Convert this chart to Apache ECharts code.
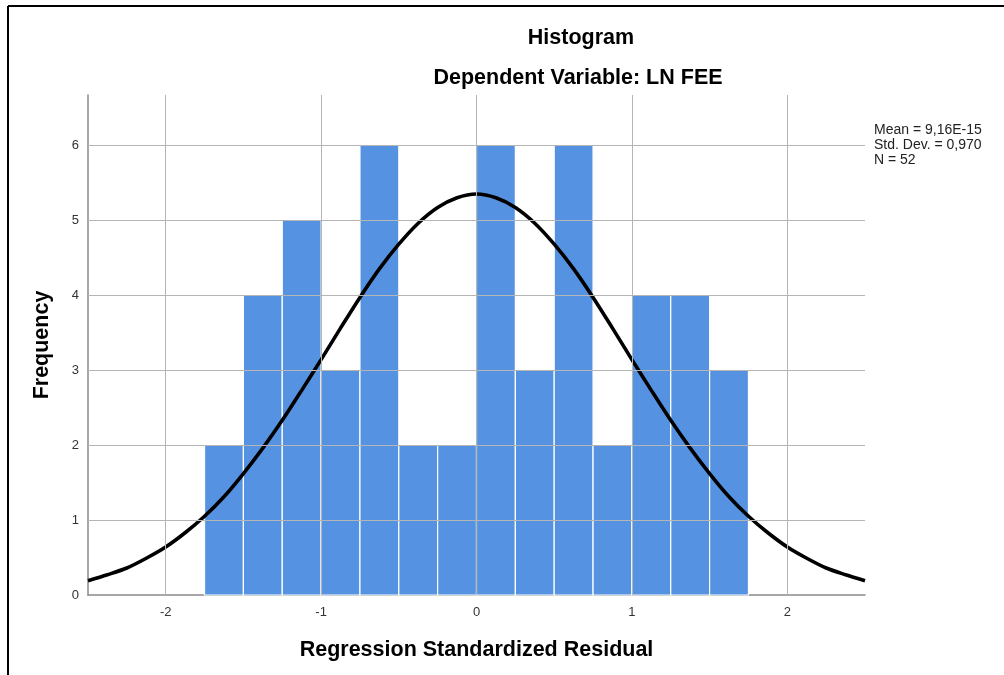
<!DOCTYPE html>
<html>
<head>
<meta charset="utf-8">
<title>Histogram</title>
<script src="https://cdn.jsdelivr.net/npm/echarts@6/dist/echarts.min.js"></script>
<style>
  html, body { margin: 0; padding: 0; background: #fff; }
  #chart { width: 1004px; height: 675px; }
</style>
</head>
<body>
<div id="chart"></div>
<script>
// Histogram bins (bin start, bin end) and frequencies
const binStart = [-1.75, -1.5, -1.25, -1.0, -0.75, -0.5, -0.25, 0.0, 0.25, 0.5, 0.75, 1.0, 1.25, 1.5];
const binEnd   = [-1.5, -1.25, -1.0, -0.75, -0.5, -0.25, 0.0, 0.25, 0.5, 0.75, 1.0, 1.25, 1.5, 1.75];
const frequency = [2, 4, 5, 3, 6, 2, 2, 6, 3, 6, 2, 4, 4, 3];

// Normal curve overlay (residual value, expected frequency)
const curveX = [-2.5, -2.375, -2.25, -2.125, -2.0, -1.875, -1.75, -1.625, -1.5, -1.375, -1.25, -1.125,
  -1.0, -0.875, -0.75, -0.625, -0.5, -0.375, -0.25, -0.125, 0.0, 0.125, 0.25, 0.375, 0.5, 0.625, 0.75,
  0.875, 1.0, 1.125, 1.25, 1.375, 1.5, 1.625, 1.75, 1.875, 2.0, 2.125, 2.25, 2.375, 2.5];
const curveY = [0.19, 0.27, 0.36, 0.49, 0.64, 0.83, 1.05, 1.31, 1.62, 1.96, 2.33, 2.73,
  3.14, 3.56, 3.97, 4.35, 4.68, 4.96, 5.17, 5.30, 5.35, 5.30, 5.17, 4.96, 4.68, 4.35, 3.97,
  3.56, 3.14, 2.73, 2.33, 1.96, 1.62, 1.31, 1.05, 0.83, 0.64, 0.49, 0.36, 0.27, 0.19];

// Axis ticks
const xTicks = [-2, -1, 0, 1, 2];
const yTicks = [0, 1, 2, 3, 4, 5, 6];

// Summary statistics
const statLines = ['Mean = 9,16E-15', 'Std. Dev. = 0,970', 'N = 52'];

const FONT = '"Liberation Sans", Arial, sans-serif';
const GRID_COLOR = '#b5b5b5';

const chart = echarts.init(document.getElementById('chart'), null, { renderer: 'canvas' });

const barData = binStart.map((s, i) => [s, binEnd[i], frequency[i]]);
const curveData = curveX.map((x, i) => [x, curveY[i]]);

const gridLines = []
  .concat(xTicks.map(v => ({ xAxis: v })))
  .concat(yTicks.filter(v => v > 0).map(v => ({ yAxis: v })));

const isInt = v => Math.abs(v - Math.round(v)) < 1e-9;

chart.setOption({
  backgroundColor: '#ffffff',
  animation: false,
  grid: { left: 88, right: 139, top: 95, bottom: 80 },
  xAxis: {
    type: 'value',
    min: -2.5,
    max: 2.5,
    interval: 0.5,
    name: 'Regression Standardized Residual',
    nameLocation: 'middle',
    nameGap: 44,
    nameTextStyle: { fontFamily: FONT, fontSize: 21.5, fontWeight: 'bold', color: '#000' },
    axisLine: { show: true, onZero: false, lineStyle: { color: '#8a8a8a', width: 1.5 } },
    axisTick: { show: false },
    splitLine: { show: false },
    axisLabel: {
      margin: 11,
      fontFamily: FONT, fontSize: 13, color: '#333',
      showMinLabel: true, showMaxLabel: true,
      formatter: v => (isInt(v) && xTicks.indexOf(Math.round(v)) >= 0) ? String(Math.round(v)) : ''
    }
  },
  yAxis: {
    type: 'value',
    min: 0,
    max: 6.67,
    interval: 1,
    name: 'Frequency',
    nameLocation: 'middle',
    nameGap: 35,
    nameRotate: 90,
    nameTextStyle: { fontFamily: FONT, fontSize: 21.5, fontWeight: 'bold', color: '#000' },
    axisLine: { show: true, onZero: false, lineStyle: { color: '#8a8a8a', width: 1.5 } },
    axisTick: { show: false },
    splitLine: { show: false },
    axisLabel: {
      margin: 9,
      fontFamily: FONT, fontSize: 13, color: '#333',
      formatter: v => isInt(v) ? String(Math.round(v)) : ''
    }
  },
  series: [
    {
      // reference gridlines at the tick values
      type: 'line',
      data: [],
      z: 1,
      silent: true,
      markLine: {
        silent: true,
        symbol: ['none', 'none'],
        label: { show: false },
        lineStyle: { color: GRID_COLOR, width: 1, type: 'solid' },
        data: gridLines
      }
    },
    {
      type: 'custom',
      z: 2,
      data: barData,
      encode: { x: [0, 1], y: 2 },
      renderItem: function (params, api) {
        const p0 = api.coord([api.value(0), api.value(2)]);
        const p1 = api.coord([api.value(1), 0]);
        return {
          type: 'rect',
          shape: { x: p0[0], y: p0[1], width: p1[0] - p0[0], height: p1[1] - p0[1] },
          style: { fill: '#5592E1', stroke: '#ffffff', lineWidth: 1.2 }
        };
      }
    },
    {
      type: 'line',
      z: 3,
      data: curveData,
      smooth: 0.3,
      showSymbol: false,
      symbol: 'none',
      lineStyle: { color: '#000', width: 3.6 }
    }
  ],
  graphic: [
    { type: 'line', shape: { x1: 8, y1: 6, x2: 1004, y2: 6 }, style: { stroke: '#000', lineWidth: 2 } },
    { type: 'line', shape: { x1: 8, y1: 6, x2: 8, y2: 675 }, style: { stroke: '#000', lineWidth: 2 } },
    {
      type: 'text', x: 581, y: 38,
      style: { text: 'Histogram', font: 'bold 21.5px ' + FONT, fill: '#000', align: 'center', verticalAlign: 'middle' }
    },
    {
      type: 'text', x: 578, y: 78,
      style: { text: 'Dependent Variable: LN FEE', font: 'bold 21.5px ' + FONT, fill: '#000', align: 'center', verticalAlign: 'middle' }
    },
    {
      type: 'text', x: 874, y: 123,
      style: { text: statLines.join('\n'), font: '14px ' + FONT, lineHeight: 15, fill: '#222', align: 'left', verticalAlign: 'top' }
    }
  ]
});
</script>
</body>
</html>
